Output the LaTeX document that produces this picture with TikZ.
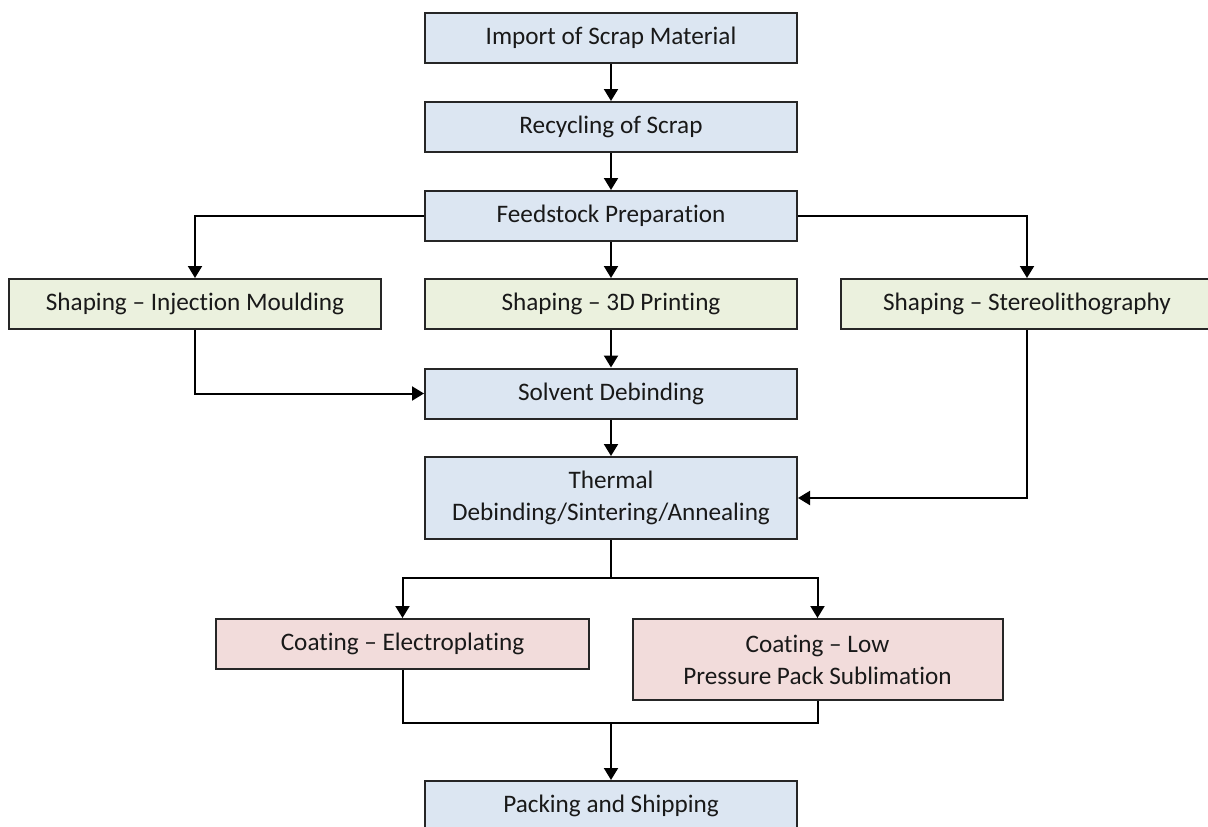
\documentclass[tikz,border=0pt]{standalone}
\usepackage{fontspec}
\setmainfont{Carlito}[Ligatures={NoCommon}]
\usetikzlibrary{arrows.meta,positioning,calc}
\definecolor{bluefill}{HTML}{DCE6F2}
\definecolor{greenfill}{HTML}{EBF1DE}
\definecolor{pinkfill}{HTML}{F2DCDB}
\definecolor{edge}{HTML}{262626}
\begin{document}
\begin{tikzpicture}[x=1pt,y=-1pt,
  box/.style={draw=edge,line width=2pt,minimum width=372pt,minimum height=50pt,
    inner sep=0pt,align=center,font=\fontsize{25.2}{32}\selectfont,text=black!90},
  bluebox/.style={box,fill=bluefill},
  greenbox/.style={box,fill=greenfill},
  pinkbox/.style={box,fill=pinkfill},
  conn/.style={draw=black,line width=2pt},
  arr/.style={conn,-{Triangle[length=12pt,width=14pt]}}]
\useasboundingbox (0,0) rectangle (1208,827);
\clip (0,0) rectangle (1208,827);
\node[bluebox] (imp) at (611,38) {Import of Scrap Material};
\node[bluebox] (rec) at (611,127) {Recycling of Scrap};
\node[bluebox] (feed) at (611,216) {Feedstock Preparation};
\node[greenbox] (inj) at (195,304) {Shaping \textendash{} Injection Moulding};
\node[greenbox] (tdp) at (611,304) {Shaping \textendash{} 3D Printing};
\node[greenbox] (stl) at (1027,304) {Shaping \textendash{} Stereolithography};
\node[bluebox] (sol) at (611,393.5) {Solvent Debinding};
\node[bluebox,minimum height=82pt] (thr) at (611,498) {Thermal\\Debinding/Sintering/Annealing};
\node[pinkbox,minimum width=373pt] (ele) at (402.5,644) {Coating \textendash{} Electroplating};
\node[pinkbox,minimum width=370pt,minimum height=81pt] (low) at (817.5,659.5) {Coating \textendash{} Low\\Pressure Pack Sublimation};
\node[bluebox] (pack) at (611,806) {Packing and Shipping};
\coordinate (j1) at (611,578);
\coordinate (j2) at (611,723);
\draw[arr] (imp) -- (rec);
\draw[arr] (rec) -- (feed);
\draw[arr] (feed) -- (tdp);
\draw[arr] (feed.west) -| (inj.north);
\draw[arr] (feed.east) -| (stl.north);
\draw[arr] (inj.south) |- (sol.west);
\draw[arr] (tdp) -- (sol);
\draw[arr] (sol) -- (thr);
\draw[arr] (stl.south) |- (thr.east);
\draw[conn] (thr.south) -- (j1);
\draw[arr] (j1) -| (ele.north);
\draw[arr] (j1) -| (low.north);
\draw[conn] (ele.south) |- (j2);
\draw[conn] (low.south) |- (j2);
\draw[arr] (j2) -- (pack.north);
\end{tikzpicture}
\end{document}
